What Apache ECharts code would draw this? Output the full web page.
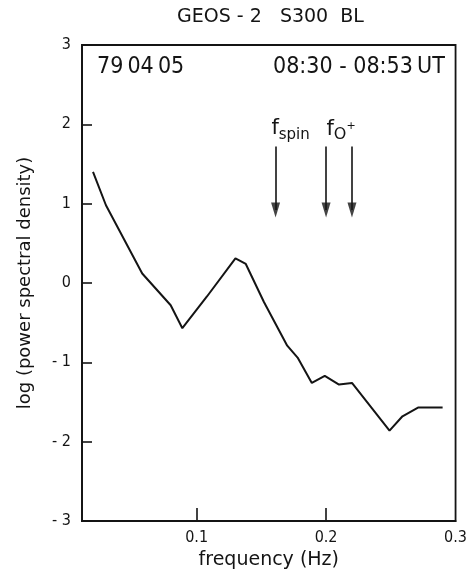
<!DOCTYPE html>
<html lang="en">
<head>
    <meta charset="UTF-8">
    <title>GEOS-2 S300 BL</title>
    <script src="https://cdn.jsdelivr.net/npm/echarts@6/dist/echarts.min.js"></script>
    <style>
        html, body { margin: 0; padding: 0; background: #fff; }
        #main { width: 470px; height: 576px; }
    </style>
</head>
<body>
<div id="main"></div>
<script>
    // spectrum
    var freq = [0.020, 0.030, 0.058, 0.080, 0.089, 0.108, 0.130, 0.138, 0.152, 0.170,
                0.178, 0.189, 0.199, 0.210, 0.220, 0.249, 0.259, 0.271, 0.290];
    var logPsd = [1.40, 0.98, 0.12, -0.28, -0.57, -0.17, 0.31, 0.24, -0.24, -0.79,
                  -0.94, -1.26, -1.17, -1.28, -1.26, -1.86, -1.68, -1.57, -1.57];

    // arrows: f_spin, f_O+ (two)
    var arrowFreqs = [0.161, 0.200, 0.220];
    var arrowLabels = ['{f|f}{s|spin}', '{f|f}{o|O}{p|+}', ''];
    var arrowTop = 1.72;
    var arrowEnd = 0.92;

    var xTicks = [0.1, 0.2, 0.3];

    var FONT = 'DejaVu Sans';
    var NARROW = 'DejaVu Sans Condensed';
    var INK = '#141414';

    var points = [];
    for (var i = 0; i < freq.length; i++) {
        points.push([freq[i], logPsd[i]]);
    }

    var arrows = [];
    var heads = [];
    for (var j = 0; j < arrowFreqs.length; j++) {
        arrows.push([
            {coord: [arrowFreqs[j], arrowTop], label: {formatter: arrowLabels[j]}},
            {coord: [arrowFreqs[j], arrowEnd]}
        ]);
        heads.push([arrowFreqs[j], arrowEnd]);
    }

    var myChart = echarts.init(document.getElementById('main'));

    var option = {
        animation: false,
        backgroundColor: '#fff',
        textStyle: {fontFamily: FONT, color: INK},
        title: {
            text: 'GEOS - 2   S300  BL',
            left: 172,
            top: 3,
            textStyle: {fontFamily: FONT, fontSize: 19, fontWeight: 'normal', color: INK}
        },
        graphic: [
            {type: 'text', left: 97, top: 56,
             style: {text: '79\u200904\u200905', font: '23px "DejaVu Sans Condensed"', fill: INK}},
            {type: 'text', left: 273, top: 56,
             style: {text: '08:30 - 08:53\u2009UT', font: '23px "DejaVu Sans Condensed"', fill: INK}}
        ],
        grid: {
            left: 82, right: 10, top: 45, bottom: 55,
            show: true,
            borderColor: INK,
            borderWidth: 1.8,
            backgroundColor: 'transparent'
        },
        xAxis: {
            type: 'value',
            min: 0.0115,
            max: 0.3,
            name: 'frequency (Hz)',
            nameLocation: 'middle',
            nameGap: 25,
            nameTextStyle: {fontFamily: FONT, fontSize: 19, color: INK},
            axisLine: {show: true, onZero: false, lineStyle: {color: INK, width: 1.8}},
            axisTick: {show: true, inside: true, length: 13, customValues: [0.1, 0.2],
                       lineStyle: {color: INK, width: 1.6}},
            axisLabel: {customValues: xTicks, margin: 9, fontSize: 16, color: INK,
                        fontFamily: NARROW, formatter: function (v) { return String(v); }},
            splitLine: {show: false}
        },
        yAxis: {
            type: 'value',
            min: -3,
            max: 3,
            interval: 1,
            name: 'log (power spectral density)',
            nameLocation: 'middle',
            nameGap: 48,
            nameTextStyle: {fontFamily: FONT, fontSize: 18, color: INK},
            axisLine: {show: true, onZero: false, lineStyle: {color: INK, width: 1.8}},
            axisTick: {show: true, inside: true, length: 10, lineStyle: {color: INK, width: 1.6}},
            axisLabel: {
                margin: 11, fontSize: 16, color: INK, fontFamily: NARROW,
                formatter: function (v) { return v < 0 ? '- ' + (-v) : String(v); }
            },
            splitLine: {show: false}
        },
        series: [
            {
                type: 'line',
                data: points,
                symbol: 'none',
                lineStyle: {color: INK, width: 2},
                markLine: {
                    silent: true,
                    symbol: ['none', 'none'],
                    lineStyle: {color: INK, width: 1.6, type: 'solid'},
                    label: {
                        show: true,
                        position: 'start',
                        distance: 4,
                        offset: [15, 0],
                        rich: {
                            f: {fontFamily: FONT, fontSize: 21, color: INK},
                            s: {fontFamily: FONT, fontSize: 15, color: INK, padding: [12, 0, 0, 0]},
                            o: {fontFamily: FONT, fontSize: 16, color: INK, padding: [10, 0, 0, 0]},
                            p: {fontFamily: FONT, fontSize: 11, color: INK, padding: [0, 0, 6, 0]}
                        }
                    },
                    data: arrows
                }
            },
            {
                type: 'scatter',
                data: heads,
                symbol: 'triangle',
                symbolRotate: 180,
                symbolSize: [9, 15],
                silent: true,
                itemStyle: {color: INK}
            }
        ]
    };

    myChart.setOption(option);
</script>
</body>
</html>
